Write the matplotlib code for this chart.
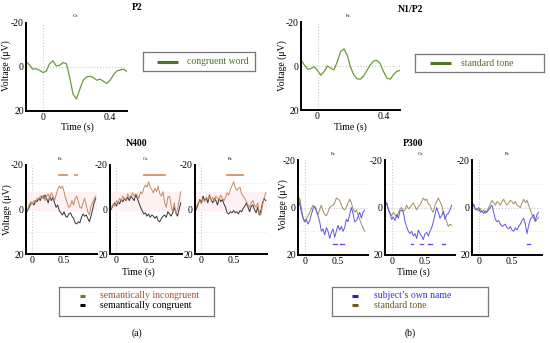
import numpy as np
import matplotlib
matplotlib.use('Agg')
import matplotlib.pyplot as plt

plt.rcParams['font.family'] = ['Liberation Serif', 'DejaVu Serif']

# ---- data (uV, negative plotted up) ----
t_top = np.round(np.arange(-0.10, 0.501, 0.02), 3)
p2_cz = [-2.5, -1.0, 1.0, 0.8, 1.5, 2.5, 2.0, -1.5, -2.8, -0.5, -0.8, -2.0, -1.5,
         5.0, 12.5, 14.5, 10.0, 6.0, 4.5, 4.2, 4.8, 6.0, 5.5, 6.5, 7.5, 6.0, 3.5,
         1.8, 1.3, 1.0, 2.0]
n1p2_fz = [-2.8, -0.5, 1.5, 1.2, 0.3, 2.0, 4.2, 2.5, 0.0, 1.0, 1.8, -2.0, -6.5,
           -7.8, -5.0, 0.5, 4.0, 5.8, 6.0, 4.5, 2.0, -0.5, -2.3, -2.6, -1.0, 2.5,
           5.5, 6.0, 4.0, 2.5, 2.0]

t_n400 = np.round(np.arange(-0.10, 1.001, 0.025), 3)
n400_incong = {
    'Fz': [1, 0, -2, -3.5, -2.5, -4, -3, -5, -4.5, -6, -5, -6.5, -4, -6, -7, -5, -7.5,
           -6, -4, -6.5, -9, -10.5, -9.5, -10.5, -8, -5, -3, -1, -1.5, -4, -2, -5, -6,
           -3.5, -1, -0.5, -3, -5, -2, 1, 2.5, -1.5, -3, -5, -6],
    'Cz': [0.5, -1, -2.5, -1.5, -4, -3, -5, -4, -6, -5, -4.5, -7, -5.5, -6, -7.5, -6,
           -7, -6.5, -5, -8, -7, -9.5, -11, -10, -12.5, -10, -9, -7.5, -9.5, -8, -10.5,
           -7, -6, -8, -3, -1, -5.5, -6, -2, 1, -3, 2, 0, -4, -8],
    'Pz': [0.5, -1.5, -3, -4, -2.5, -5, -3.5, -5.5, -4.5, -6, -4, -5.5, -3.5, -6, -5,
           -4.5, -6.5, -5, -4, -5.5, -7.5, -6.5, -9, -10.5, -12.5, -10, -8.5, -9.5, -10,
           -7, -6, -5, -3.5, -2, -1, -3, -4, -2, -1, -3, 1.5, 2.5, -2, -5, -7.5],
}
n400_cong = {
    'Fz': [1.5, 0.5, -1, -2.5, -3, -2, -4, -3.5, -5, -4, -6, -5, -6.5, -5, -3, -6, -4,
           -5.5, -3, -1, -2, 0.5, 1.5, 2.5, 1, 3, 3.5, 2, 1.5, 3, 4, 6, 6.5, 5.5, 6, 3.5,
           2, 3, 2.5, 4, 5.5, 3, 0, -3, -5],
    'Cz': [1, -0.5, -2, -3, -1.5, -3.5, -2.5, -4.5, -3.5, -5, -4, -5.5, -4, -6, -5, -4,
           -6.5, -5, -3, -1, 0.5, 2, 1.5, 3, 2, 3.5, 2.5, 3, 4, 3, 5, 5.5, 4, 3, 2.5, 3.5,
           1, 2, 3, 1.5, -1, 1.5, 3, 0, -3],
    'Pz': [1, -0.5, -2.5, -4.5, -3, -6, -4, -5, -3, -6.5, -4.5, -3, -5, -4, -2, -5, -3.5,
           -4.5, -2.5, -1, 1.5, 2, 1, 1.5, 0.5, 1.5, 1, 2, 0.5, 1, -0.5, -1.5, -3, -1, 1,
           -1.5, -2, 0, 1.5, -1, 2.5, 0.5, -3, -5, -4],
}
n400_sig = {'Fz': [(0.42, 0.55), (0.67, 0.70)], 'Cz': [(0.43, 0.75)], 'Pz': [(0.40, 0.65)]}

t_p300 = np.round(np.arange(-0.10, 0.901, 0.025), 3)
p300_name = {
    'Fz': [0, -2, 2, 4.5, 6, 5, 7, 5.5, 3, 0.5, -0.5, 1, 3.5, 6, 10, 9, 11.5, 8.5, 10, 13,
           10.5, 9, 12.5, 10, 7.5, 9.5, 8, 10, 8.5, 5, 6, 3, 0, 2.5, 6, 5.5, 4, 2, 4.5, 2, 1],
    'Cz': [0, -2, 1, 2.5, 5, 4, 5.5, 3, 4.5, 1.5, 1, 2, 6, 8, 10, 11, 10, 12, 11, 13, 9.5,
           11, 12, 13.5, 11, 10.5, 12, 10, 8.5, 6, 3, 0, 2, 4.5, 3.5, 1.5, 5, 3, 2.5, 1, -1],
    'Pz': [0, -1.5, 0.5, 1, 0, 2, 1.5, 2.5, 1.5, 2, 1, 0, -1, 2, 5, 6, 5.5, 7, 8, 7.5, 7,
           8.5, 9, 8, 9.5, 10, 8.5, 9.5, 8, 7, 5.5, 4.5, 7, 11, 7.5, 5, 4, 3, 5.5, 3, 2],
}
p300_tone = {
    'Fz': [1, -4, 0, 4, 6, 5, 3.5, 2, 0.5, -1, 0, 1.5, 3, 1, -1, 1.5, 3, 3.5, 2, 0, -0.5,
           -1, -2, -4, -3.5, -3, -1, 0.5, 1, 0, -2, -3.5, -2, 0.5, 2, 1, 3, 5, 7, 8.5, 10],
    'Cz': [0, -2, 0.5, 2.5, 3.5, 2, 3, 4, 2.5, 0.5, 0, 1.5, 1, -1, 0.5, 0, -1, -2, -0.5, 1,
           -0.5, -1, -2.5, -4, -3, -3.5, -1.5, -1, 1, 2, -1, -2.5, -4, -2.5, -1, 2, 4, 6, 8,
           7, 7.5],
    'Pz': [0.5, -1, 1, 0.5, 1.5, 0.5, 2, 1, 2.5, 1.5, 0, -1.5, -3, -2, -1, -2.5, -2, -1,
           -2.5, -3.5, -2, -1, -2, -3, -2.5, -1.5, -2.5, -1, -0.5, 0, -2, -3.5, -2, -3, -1,
           1, 3, 4.5, 6, 5, 4],
}
p300_sig = {'Fz': [(0.43, 0.48), (0.53, 0.59)],
            'Cz': [(0.29, 0.32), (0.42, 0.47), (0.55, 0.60), (0.76, 0.80)],
            'Pz': [(0.73, 0.77)]}
electrodes = ['Fz', 'Cz', 'Pz']

GREEN = '#6a9a3a'
GREEN_D = '#4f7423'
ORANGE = '#c98a5c'
BLACK = '#333333'
BLUE = '#5b55e6'
OLIVE = '#a08e5a'

W, H = 550, 343
fig = plt.figure(figsize=(5.5, 3.43), dpi=100)


def box(x0, y0, x1, y1):
    return [x0 / W, 1 - y1 / H, (x1 - x0) / W, (y1 - y0) / H]


def ftext(x, y, s, **kw):
    kw.setdefault('ha', 'center')
    kw.setdefault('va', 'center')
    fig.text(x / W, 1 - y / H, s, **kw)


def erp_axes(rect, xlim, xticks, xlabels):
    ax = fig.add_axes(box(*rect))
    ax.set_xlim(xlim)
    ax.set_ylim(20, -20)
    ax.set_yticks([-20, 0, 20])
    ax.set_yticklabels(['-20', '0', '20'])
    ax.set_xticks(xticks)
    ax.set_xticklabels(xlabels)
    ax.spines['top'].set_visible(False)
    ax.spines['right'].set_visible(False)
    ax.spines['left'].set_linewidth(1.4)
    ax.spines['bottom'].set_linewidth(1.4)
    ax.tick_params(length=0, labelsize=7, pad=1.5)
    ax.axhline(0, color='#c8c8c8', ls=':', lw=0.8, zorder=0)
    ax.axvline(0, color='#c8c8c8', ls=':', lw=0.8, zorder=0)
    ax.patch.set_alpha(0)
    return ax


# ---- top row ----
ax = erp_axes((26, 23, 127, 111), (-0.1, 0.5), [0, 0.4], ['0', '0.4'])
ax.plot(t_top, p2_cz, color=GREEN, lw=0.9)
ax = erp_axes((301, 22, 400, 110), (-0.1, 0.5), [0, 0.4], ['0', '0.4'])
ax.plot(t_top, n1p2_fz, color=GREEN, lw=0.9)

ftext(137, 8, 'P2', fontsize=7, fontweight='bold')
ftext(411, 9, 'N1/P2', fontsize=7, fontweight='bold')
ftext(75, 16, 'Cz', fontsize=3.5)
ftext(348, 16, 'Fz', fontsize=3.5)
ftext(77, 127, 'Time (s)', fontsize=7)
ftext(350, 127, 'Time (s)', fontsize=7)
ftext(6, 66, 'Voltage (μV)', fontsize=7, rotation=90)
ftext(282, 66, 'Voltage (μV)', fontsize=7, rotation=90)

# ---- N400 ----
n400_x = [(26, 97), (110, 182), (195, 267)]
for (x0, x1), el in zip(n400_x, electrodes):
    ax = erp_axes((x0, 165, x1, 254), (-0.1, 1.02), [0, 0.5], ['0', '0.5'])
    ax.axhspan(-8, 0, xmin=0.02, xmax=0.98, color='#fdf1f4', zorder=0)
    for yy in (-12, 10):
        ax.axhline(yy, color='#f0f0f0', lw=0.5, zorder=0)
    ax.plot(t_n400, n400_cong[el], color=BLACK, lw=0.7)
    ax.plot(t_n400, n400_incong[el], color=ORANGE, lw=0.7)
    for a, b in n400_sig[el]:
        ax.plot([a, b], [-15.5, -15.5], color=ORANGE, lw=1.2)
    ftext((x0 + x1) / 2 - 1, 159, el, fontsize=3.5)
ftext(137, 144, 'N400', fontsize=7, fontweight='bold')
ftext(138, 272, 'Time (s)', fontsize=7)
ftext(7, 210, 'Voltage (μV)', fontsize=7, rotation=90)

# ---- P300 ----
p300_x = [(298, 368), (385, 455), (472, 542)]
for (x0, x1), el in zip(p300_x, electrodes):
    ax = erp_axes((x0, 160, x1, 255), (-0.1, 0.95), [0, 0.5], ['0', '0.5'])
    for yy in (-10, 10):
        ax.axhline(yy, color='#f0f0f0', lw=0.5, zorder=0)
    ax.plot(t_p300, p300_tone[el], color=OLIVE, lw=0.7)
    ax.plot(t_p300, p300_name[el], color=BLUE, lw=0.7)
    for a, b in p300_sig[el]:
        ax.plot([a, b], [15.2, 15.2], color=BLUE, lw=1.0)
    ftext((x0 + x1) / 2, 154, el, fontsize=3.5)
ftext(413, 143, 'P300', fontsize=7, fontweight='bold')
ftext(413, 272, 'Time (s)', fontsize=7)
ftext(283, 205, 'Voltage (μV)', fontsize=7, rotation=90)


# ---- legend boxes ----
def legend_box(rect, entries, line_px):
    x0, y0, x1, y1 = rect
    lax = fig.add_axes(box(*rect))
    lax.set_xlim(x0, x1)
    lax.set_ylim(y1, y0)
    lax.set_xticks([])
    lax.set_yticks([])
    for s in lax.spines.values():
        s.set_edgecolor('#777777')
        s.set_linewidth(0.9)
    lx0, lx1, tx = line_px
    for y, label, lc, tc, lw in entries:
        lax.plot([lx0, lx1], [y, y], color=lc, lw=lw, solid_capstyle='butt')
        lax.text(tx, y, label, color=tc, fontsize=7, va='center', ha='left')


legend_box((143, 52, 255, 71), [(62, 'congruent word', GREEN_D, GREEN_D, 2.2)],
           (157, 178, 187))
legend_box((415, 54, 544, 72), [(63, 'standard tone', GREEN_D, GREEN_D, 2.2)],
           (430, 451, 461))
legend_box((59, 287, 214, 316),
           [(296, 'semantically incongruent', '#8a6a2a', '#a0522d', 2.2),
            (305, 'semantically congruent', '#000000', '#000000', 2.2)],
           (80, 85, 100))
legend_box((332, 287, 488, 316),
           [(296, "subject’s own name", '#2020e0', '#3030e0', 2.2),
            (305, 'standard tone', '#6a5a20', '#6a5a20', 2.2)],
           (352, 358, 374))

ftext(137, 333, '(a)', fontsize=7)
ftext(410, 333, '(b)', fontsize=7)

fig.savefig('out.png', dpi=100)
